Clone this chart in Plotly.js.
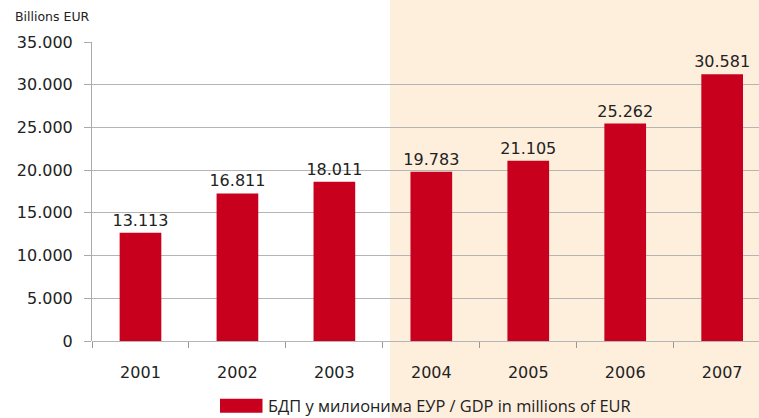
<!DOCTYPE html>
<html>
<head>
<meta charset="utf-8">
<script src="https://cdn.plot.ly/plotly-3.0.1.min.js"></script>
<style>html,body{margin:0;padding:0;background:#fff;}#chart{width:759px;height:418px;}</style>
</head>
<body>
<div id="chart"></div>
<script>
var years = ['2001', '2002', '2003', '2004', '2005', '2006', '2007'];
var barValues = [12670, 17270, 18630, 19820, 21100, 25460, 31230];
var barLabels = ['13.113', '16.811', '18.011', '19.783', '21.105', '25.262', '30.581'];
var yTickVals = [0, 5000, 10000, 15000, 20000, 25000, 30000, 35000];
var yTickText = ['0', '5.000', '10.000', '15.000', '20.000', '25.000', '30.000', '35.000'];
var yAxisLabel = 'Billions EUR';
var seriesName = 'БДП у милионима ЕУР / GDP in millions of EUR';

var red = '#C8001E';
var mainFont = 'DejaVu Sans, Verdana, sans-serif';
var trace = {
  type: 'bar',
  x: years,
  y: barValues,
  text: barLabels,
  textposition: 'outside',
  constraintext: 'none',
  textfont: {family: mainFont, size: 16, color: '#222'},
  cliponaxis: false,
  marker: {color: red},
  width: 0.43,
  showlegend: false,
  hoverinfo: 'none'
};

var layout = {
  width: 759, height: 418,
  margin: {l: 92, r: 0, t: 42, b: 76.5, pad: 0},
  paper_bgcolor: '#fff',
  plot_bgcolor: 'rgba(0,0,0,0)',
  font: {family: mainFont, color: '#222'},
  xaxis: {
    type: 'category',
    range: [-0.5, 6.38],
    showgrid: false,
    zeroline: false,
    showline: false,
    ticks: 'outside',
    tickson: 'boundaries',
    ticklen: 6,
    tickcolor: '#999',
    tickfont: {family: mainFont, size: 16, color: '#222'},
    ticklabelstandoff: 20
  },
  yaxis: {
    range: [0, 35000],
    tickvals: yTickVals,
    ticktext: yTickText,
    showgrid: true,
    gridcolor: '#b5b5b5',
    gridwidth: 1,
    zeroline: true,
    zerolinecolor: '#b5b5b5',
    showline: true,
    linecolor: '#aaa',
    ticks: 'outside',
    ticklen: 7,
    tickcolor: '#aaa',
    tickfont: {family: mainFont, size: 16, color: '#222'},
    ticklabelstandoff: 8
  },
  shapes: [
    {type: 'rect', layer: 'below', xref: 'x', yref: 'paper',
     x0: 2.575, x1: 6.5, y0: -0.30, y1: 1.15,
     fillcolor: '#FEEFDD', line: {width: 0}},
    {type: 'rect', xref: 'paper', yref: 'paper',
     x0: (220 - 92) / 667, x1: (262.5 - 92) / 667,
     y0: (341.5 - 413.3) / 299.5, y1: (341.5 - 399.3) / 299.5,
     fillcolor: red, line: {width: 0}}
  ],
  annotations: [
    {text: yAxisLabel, xref: 'paper', yref: 'paper',
     x: (13 - 92) / 667, y: (341.5 - 16) / 299.5,
     xanchor: 'left', yanchor: 'middle', showarrow: false,
     font: {family: mainFont, size: 12.5, color: '#222'}},
    {text: seriesName, xref: 'paper', yref: 'paper',
     x: (266 - 92) / 667, y: (341.5 - 406.5) / 299.5,
     xanchor: 'left', yanchor: 'middle', showarrow: false,
     font: {family: 'Open Sans, Noto Sans, sans-serif', size: 16.4, color: '#222'}}
  ]
};

Plotly.newPlot('chart', [trace], layout, {displayModeBar: false, staticPlot: true});
</script>
</body>
</html>
